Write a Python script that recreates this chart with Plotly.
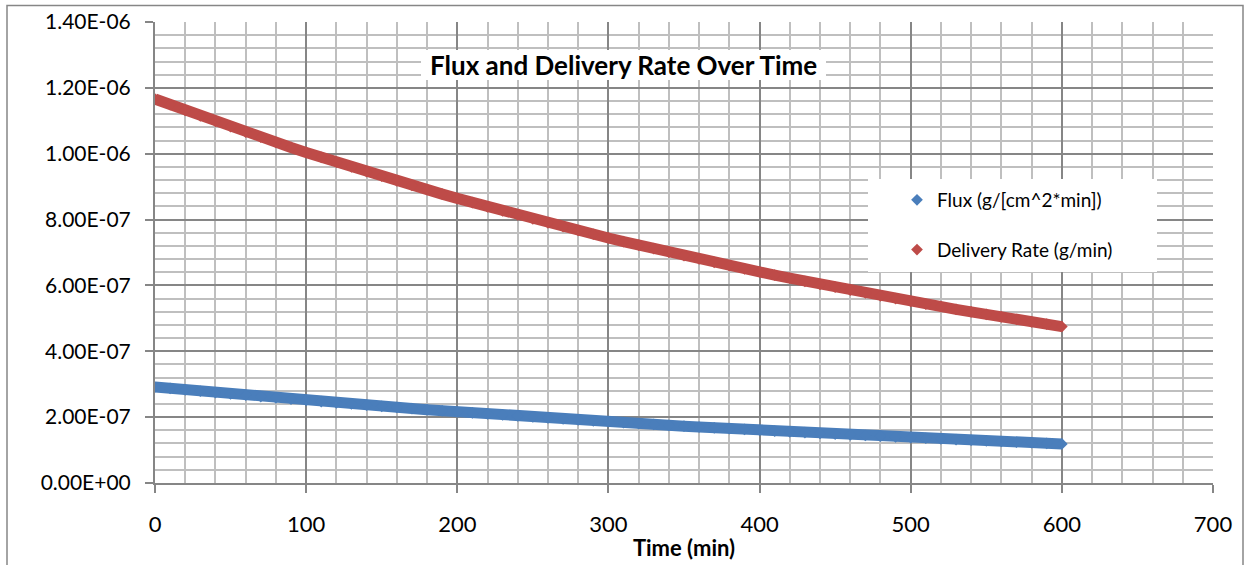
import plotly.graph_objects as go

# ---- data ----
time_min = [0, 10, 20, 30, 40, 50, 60, 70, 80, 90, 100, 110, 120, 130, 140, 150, 160, 170, 180, 190,
            200, 210, 220, 230, 240, 250, 260, 270, 280, 290, 300, 310, 320, 330, 340, 350, 360, 370,
            380, 390, 400, 410, 420, 430, 440, 450, 460, 470, 480, 490, 500, 510, 520, 530, 540, 550,
            560, 570, 580, 590, 600]

delivery_rate_e7 = [11.66, 11.487, 11.316, 11.148, 10.982, 10.819, 10.658, 10.500, 10.344, 10.190,
                    10.039, 9.890, 9.743, 9.598, 9.455, 9.315, 9.176, 9.040, 8.906, 8.773,
                    8.643, 8.515, 8.388, 8.264, 8.141, 8.020, 7.901, 7.783, 7.668, 7.554,
                    7.442, 7.331, 7.222, 7.115, 7.009, 6.905, 6.803, 6.702, 6.602, 6.504,
                    6.408, 6.312, 6.219, 6.126, 6.035, 5.946, 5.857, 5.770, 5.685, 5.600,
                    5.517, 5.435, 5.354, 5.275, 5.197, 5.119, 5.043, 4.968, 4.895, 4.822, 4.750]

flux_e7 = [2.915, 2.872, 2.829, 2.787, 2.746, 2.705, 2.665, 2.625, 2.586, 2.548,
           2.510, 2.473, 2.436, 2.400, 2.364, 2.329, 2.294, 2.260, 2.227, 2.193,
           2.161, 2.129, 2.097, 2.066, 2.035, 2.005, 1.975, 1.946, 1.917, 1.889,
           1.861, 1.833, 1.806, 1.779, 1.752, 1.726, 1.701, 1.676, 1.651, 1.626,
           1.602, 1.578, 1.555, 1.532, 1.509, 1.487, 1.464, 1.443, 1.421, 1.400,
           1.379, 1.359, 1.339, 1.319, 1.299, 1.280, 1.261, 1.242, 1.224, 1.206, 1.188]

delivery_rate = [v * 1e-7 for v in delivery_rate_e7]
flux = [v * 1e-7 for v in flux_e7]

x_tick_vals = [0, 100, 200, 300, 400, 500, 600, 700]
x_tick_text = ["0", "100", "200", "300", "400", "500", "600", "700"]
y_tick_vals = [0, 2e-7, 4e-7, 6e-7, 8e-7, 1.0e-6, 1.2e-6, 1.4e-6]
y_tick_text = ["0.00E+00", "2.00E-07", "4.00E-07", "6.00E-07", "8.00E-07",
               "1.00E-06", "1.20E-06", "1.40E-06"]

series_names = ["Flux (g/[cm^2*min])", "Delivery Rate (g/min)"]
chart_title = "Flux and Delivery Rate Over Time"
x_title = "Time (min)"

BLUE = "#4A7EBB"
RED = "#BE4B48"
MAJOR = "#868686"
MINOR = "#BFBFBF"
FONT = "Lato"

# plot-area pixel frame (for converting decorative boxes to paper coords)
L, R, T, B = 155, 1213, 22, 483
def px(xp):
    return (xp - L) / (R - L)
def py(yp):
    return (B - yp) / (B - T)

fig = go.Figure()

for ys, col, name, grp in [(flux, BLUE, series_names[0], "f"),
                           (delivery_rate, RED, series_names[1], "d")]:
    fig.add_trace(go.Scatter(x=time_min, y=ys, mode="lines",
                             line=dict(color=col, width=11),
                             showlegend=False, hoverinfo="skip", legendgroup=grp))
    fig.add_trace(go.Scatter(x=time_min, y=ys, mode="markers", name=name,
                             marker=dict(symbol="diamond", size=9, color=col),
                             legendgroup=grp))

fig.update_layout(
    width=1245, height=565,
    margin=dict(l=L, r=1245 - R, t=T, b=565 - B, autoexpand=False),
    paper_bgcolor="white", plot_bgcolor="white",
    font=dict(family=FONT, size=22, color="#000000"),
    showlegend=True,
    legend=dict(x=px(897), y=py(181), xanchor="left", yanchor="top",
                bgcolor="rgba(0,0,0,0)", borderwidth=0,
                font=dict(family=FONT, size=19, color="#000000"),
                tracegroupgap=22, traceorder="grouped"),
)

fig.update_xaxes(
    range=[0, 700], tickmode="array", tickvals=x_tick_vals, ticktext=x_tick_text,
    tickfont=dict(family=FONT, size=22),
    showline=True, linecolor=MAJOR, linewidth=2,
    ticks="outside", ticklen=8, tickwidth=2, tickcolor=MAJOR,
    ticklabelstandoff=13,
    showgrid=True, gridcolor=MAJOR, gridwidth=2, zeroline=False,
    minor=dict(dtick=20, tick0=0, showgrid=True, gridcolor=MINOR, gridwidth=2, ticks=""),
    title=dict(text="<b>" + x_title + "</b>", font=dict(family=FONT, size=22), standoff=4),
    automargin=False,
)
fig.update_yaxes(
    range=[0, 1.4e-6], tickmode="array", tickvals=y_tick_vals, ticktext=y_tick_text,
    tickfont=dict(family=FONT, size=21),
    showline=True, linecolor=MAJOR, linewidth=2,
    ticks="outside", ticklen=8, tickwidth=2, tickcolor=MAJOR,
    ticklabelstandoff=10,
    showgrid=True, gridcolor=MAJOR, gridwidth=2, zeroline=False,
    minor=dict(dtick=4e-8, tick0=0, showgrid=True, gridcolor=MINOR, gridwidth=2, ticks=""),
    automargin=False,
)

# white boxes behind title and legend, and outer chart border
fig.add_shape(type="rect", xref="paper", yref="paper",
              x0=px(421), x1=px(826), y0=py(80), y1=py(50),
              fillcolor="white", line=dict(width=0), layer="above")
fig.add_shape(type="rect", xref="paper", yref="paper",
              x0=px(868), x1=px(1157), y0=py(272), y1=py(179),
              fillcolor="white", line=dict(width=0), layer="above")
fig.add_shape(type="rect", xref="paper", yref="paper",
              x0=px(7), x1=px(1243), y0=py(600), y1=py(5.5),
              fillcolor="rgba(0,0,0,0)", line=dict(color=MAJOR, width=1.5), layer="above")

fig.add_annotation(text="<b>" + chart_title + "</b>", xref="paper", yref="paper",
                   x=px(623), y=py(65), xanchor="center", yanchor="middle",
                   showarrow=False, font=dict(family=FONT, size=26, color="#000000"))

fig.write_html("out.html")
